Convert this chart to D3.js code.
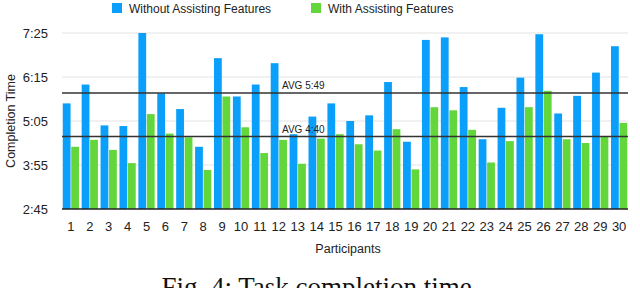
<!DOCTYPE html>
<html>
<head>
<meta charset="utf-8">
<script src="https://cdn.jsdelivr.net/npm/d3@7"></script>
<style>
  body { margin: 0; background: #fff; }
  svg { display: block; }
  text { font-family: "Liberation Sans", Arial, sans-serif; fill: #222; }
</style>
</head>
<body>
<svg id="chart" width="640" height="288"></svg>
<script>
// participants 1..30
const participants = d3.range(1, 31).map(String);

// completion time in seconds
const withoutAssist = [333, 363, 298, 297, 445, 349, 324, 264, 405, 344,
                       363, 397, 284, 312, 333, 305, 314, 367, 272, 434,
                       438, 359, 276, 326, 374, 443, 317, 345, 382, 424];
const withAssist    = [264, 275, 259, 238, 316, 285, 279, 227, 344, 295,
                       254, 275, 237, 277, 284, 268, 258, 292, 228, 327,
                       322, 291, 239, 273, 327, 353, 276, 270, 281, 302];

const seriesNames = ["Without Assisting Features", "With Assisting Features"];
const seriesColors = ["#0a9ffb", "#63d63c"];
const yTicks = [165, 235, 305, 375, 445]; // 2:45 .. 7:25

const fmtTime = s => `${Math.floor(s / 60)}:${String(Math.floor(s % 60)).padStart(2, "0")}`;

const svg = d3.select("#chart");
const margin = {left: 62, right: 12, top: 33, bottom: 79};
const W = 640, H = 288;

const x = d3.scaleBand().domain(participants)
  .range([margin.left, W - margin.right]).paddingInner(0.14).paddingOuter(0.04);
const xs = d3.scaleBand().domain([0, 1]).range([0, x.bandwidth()]).paddingInner(0.08);
const y = d3.scaleLinear().domain([165, 445]).range([H - margin.bottom, margin.top]);

// gridlines
svg.append("g").selectAll("line").data(yTicks.slice(1)).enter().append("line")
  .attr("x1", margin.left).attr("x2", W - margin.right)
  .attr("y1", d => y(d)).attr("y2", d => y(d))
  .attr("stroke", "#e2e2e2").attr("stroke-width", 1);

// y tick labels
svg.append("g").selectAll("text").data(yTicks).enter().append("text")
  .attr("x", 48).attr("y", d => y(d)).attr("dy", "0.35em")
  .attr("text-anchor", "end").style("font-size", "13px")
  .text(fmtTime);

// bars
const rows = participants.map((p, i) => ({p, vals: [withoutAssist[i], withAssist[i]]}));
svg.append("g").selectAll("g").data(rows).enter().append("g")
  .attr("transform", d => `translate(${x(d.p)},0)`)
  .selectAll("rect").data(d => d.vals.map((v, k) => ({v, k}))).enter().append("rect")
  .attr("x", d => xs(d.k)).attr("width", xs.bandwidth())
  .attr("y", d => y(d.v)).attr("height", d => y(165) - y(d.v))
  .attr("fill", d => seriesColors[d.k]);

// baseline
svg.append("line")
  .attr("x1", margin.left).attr("x2", W - margin.right)
  .attr("y1", y(165)).attr("y2", y(165))
  .attr("stroke", "#222").attr("stroke-width", 1.5);

// average lines
const avgs = [d3.mean(withoutAssist), d3.mean(withAssist)];
avgs.forEach(a => {
  svg.append("line")
    .attr("x1", margin.left).attr("x2", W - margin.right)
    .attr("y1", y(a)).attr("y2", y(a))
    .attr("stroke", "#333").attr("stroke-width", 1.5);
  svg.append("text")
    .attr("x", 282).attr("y", y(a) - 3.5)
    .style("font-size", "10px")
    .text(`AVG ${fmtTime(a)}`);
});

// x labels
svg.append("g").selectAll("text").data(participants).enter().append("text")
  .attr("x", d => x(d) + x.bandwidth() / 2).attr("y", 231)
  .attr("text-anchor", "middle").style("font-size", "13px")
  .text(d => d);

svg.append("text").attr("x", 348).attr("y", 253)
  .attr("text-anchor", "middle").style("font-size", "12.5px").text("Participants");

svg.append("text")
  .attr("transform", `translate(15,${(margin.top + H - margin.bottom) / 2}) rotate(-90)`)
  .attr("text-anchor", "middle").style("font-size", "12.5px").text("Completion Time");

// legend
const legendX = [112, 311];
seriesNames.forEach((name, k) => {
  svg.append("rect").attr("x", legendX[k]).attr("y", 3).attr("width", 10).attr("height", 10)
    .attr("fill", seriesColors[k]);
  svg.append("text").attr("x", legendX[k] + 17).attr("y", 12.5)
    .style("font-size", "12px").text(name);
});

// caption (cut off by the frame, as in the source)
svg.append("text").attr("x", 320).attr("y", 296)
  .attr("text-anchor", "middle")
  .style("font-family", "'Liberation Serif', 'Times New Roman', serif")
  .style("font-size", "27px").style("fill", "#111")
  .text("Fig. 4: Task completion time.");
</script>
</body>
</html>
